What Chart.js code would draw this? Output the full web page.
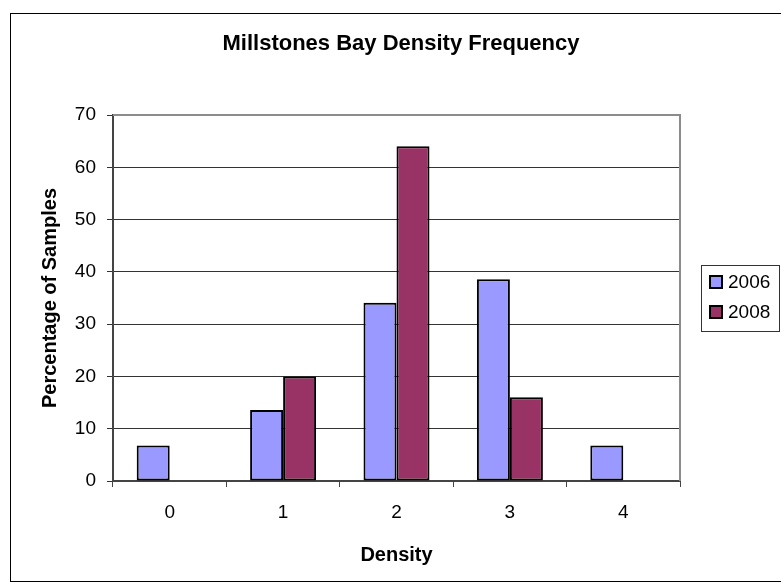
<!DOCTYPE html>
<html>
<head>
<meta charset="utf-8">
<title>Millstones Bay Density Frequency</title>
<script src="https://cdn.jsdelivr.net/npm/chart.js@4/dist/chart.umd.min.js"></script>
<style>
  html, body { margin: 0; padding: 0; background: #ffffff; }
  canvas { display: block; }
</style>
</head>
<body>
<canvas id="chart" width="781" height="583"></canvas>
<script>
// Density classes and the share of samples (%) in each, per survey year
const categories = ['0', '1', '2', '3', '4'];
const pct2006 = [6.8, 13.6, 34.1, 38.6, 6.8];
const pct2008 = [0, 20, 64, 16, 0];
const seriesLabels = ['2006', '2008'];
const yMin = 0;
const yMax = 70;
const yStep = 10;

const FONT = '"Liberation Sans", Arial, Helvetica, sans-serif';

// White page with a thin black frame around the whole chart
const framePlugin = {
  id: 'frame',
  beforeDraw(chart) {
    const ctx = chart.ctx;
    ctx.save();
    ctx.fillStyle = '#ffffff';
    ctx.fillRect(0, 0, chart.width, chart.height);
    ctx.strokeStyle = '#000000';
    ctx.lineWidth = 1;
    ctx.strokeRect(10.5, 13.5, 790, 568);
    ctx.restore();
  }
};

// Chart heading
const headingPlugin = {
  id: 'heading',
  afterDraw(chart) {
    const ctx = chart.ctx;
    ctx.save();
    ctx.font = 'bold 22px ' + FONT;
    ctx.fillStyle = '#000000';
    ctx.textAlign = 'center';
    ctx.textBaseline = 'middle';
    ctx.fillText('Millstones Bay Density Frequency', 401, 44);
    ctx.restore();
  }
};

// Grey top and right edges of the plot area
const plotEdgePlugin = {
  id: 'plotEdge',
  afterDatasetsDraw(chart) {
    const { left, right, top, bottom } = chart.chartArea;
    const ctx = chart.ctx;
    ctx.save();
    ctx.strokeStyle = '#8c8c8c';
    ctx.lineWidth = 2;
    ctx.beginPath();
    ctx.moveTo(left, top);
    ctx.lineTo(right, top);
    ctx.lineTo(right, bottom);
    ctx.stroke();
    ctx.restore();
  }
};

// Boxed legend to the right of the plot
const boxLegendPlugin = {
  id: 'boxLegend',
  afterDraw(chart) {
    const ctx = chart.ctx;
    const x0 = 701.5, y0 = 265.5, w = 78, h = 66;
    ctx.save();
    ctx.fillStyle = '#ffffff';
    ctx.fillRect(x0, y0, w, h);
    ctx.strokeStyle = '#333333';
    ctx.lineWidth = 1;
    ctx.strokeRect(x0, y0, w, h);
    ctx.font = '19px ' + FONT;
    ctx.textAlign = 'left';
    ctx.textBaseline = 'middle';
    chart.data.datasets.forEach((ds, i) => {
      const cy = 282 + i * 30;
      ctx.fillStyle = ds.backgroundColor;
      ctx.fillRect(710, cy - 6, 12, 12);
      ctx.strokeStyle = '#000000';
      ctx.lineWidth = 2;
      ctx.strokeRect(710, cy - 6, 12, 12);
      ctx.fillStyle = '#000000';
      ctx.fillText(ds.label, 728, cy + 1);
    });
    ctx.restore();
  }
};

new Chart(document.getElementById('chart'), {
  type: 'bar',
  data: {
    labels: categories,
    datasets: [
      {
        label: seriesLabels[0],
        data: pct2006,
        backgroundColor: '#9999ff',
        borderColor: '#000000',
        borderWidth: 2,
        borderSkipped: false
      },
      {
        label: seriesLabels[1],
        data: pct2008,
        backgroundColor: '#993366',
        borderColor: '#000000',
        borderWidth: 2,
        borderSkipped: false
      }
    ]
  },
  options: {
    responsive: false,
    devicePixelRatio: 1,
    animation: false,
    layout: { padding: { left: 0, top: 115, right: 101, bottom: 0 } },
    datasets: {
      bar: { categoryPercentage: 0.582, barPercentage: 1.0 }
    },
    plugins: {
      legend: { display: false },
      title: { display: false },
      tooltip: { enabled: false }
    },
    scales: {
      x: {
        type: 'category',
        offset: true,
        grid: {
          offset: true,
          drawOnChartArea: false,
          drawTicks: true,
          tickLength: 6,
          color: '#444444',
          lineWidth: 1
        },
        border: { display: true, color: '#444444', width: 2 },
        ticks: {
          color: '#000000',
          font: { family: FONT, size: 19 },
          padding: 14,
          maxRotation: 0
        },
        title: {
          display: true,
          text: 'Density',
          color: '#000000',
          font: { family: FONT, size: 20, weight: 'bold' },
          padding: { top: 0, bottom: 16 }
        },
        afterFit(scale) { scale.height = 102; }
      },
      y: {
        min: yMin,
        max: yMax,
        ticks: {
          stepSize: yStep,
          color: '#000000',
          font: { family: FONT, size: 19 },
          padding: 11
        },
        grid: {
          color: (c) => (c.tick && c.tick.value === yMax ? 'rgba(0,0,0,0)' : '#333333'),
          tickColor: '#333333',
          lineWidth: 1,
          drawTicks: true,
          tickLength: 6
        },
        border: { display: true, color: '#444444', width: 2 },
        title: {
          display: true,
          text: 'Percentage of Samples',
          color: '#000000',
          font: { family: FONT, size: 20, weight: 'bold' },
          padding: { top: 38, bottom: 0 }
        },
        afterFit(scale) { scale.width = 113; }
      }
    }
  },
  plugins: [framePlugin, plotEdgePlugin, headingPlugin, boxLegendPlugin]
});
</script>
</body>
</html>
